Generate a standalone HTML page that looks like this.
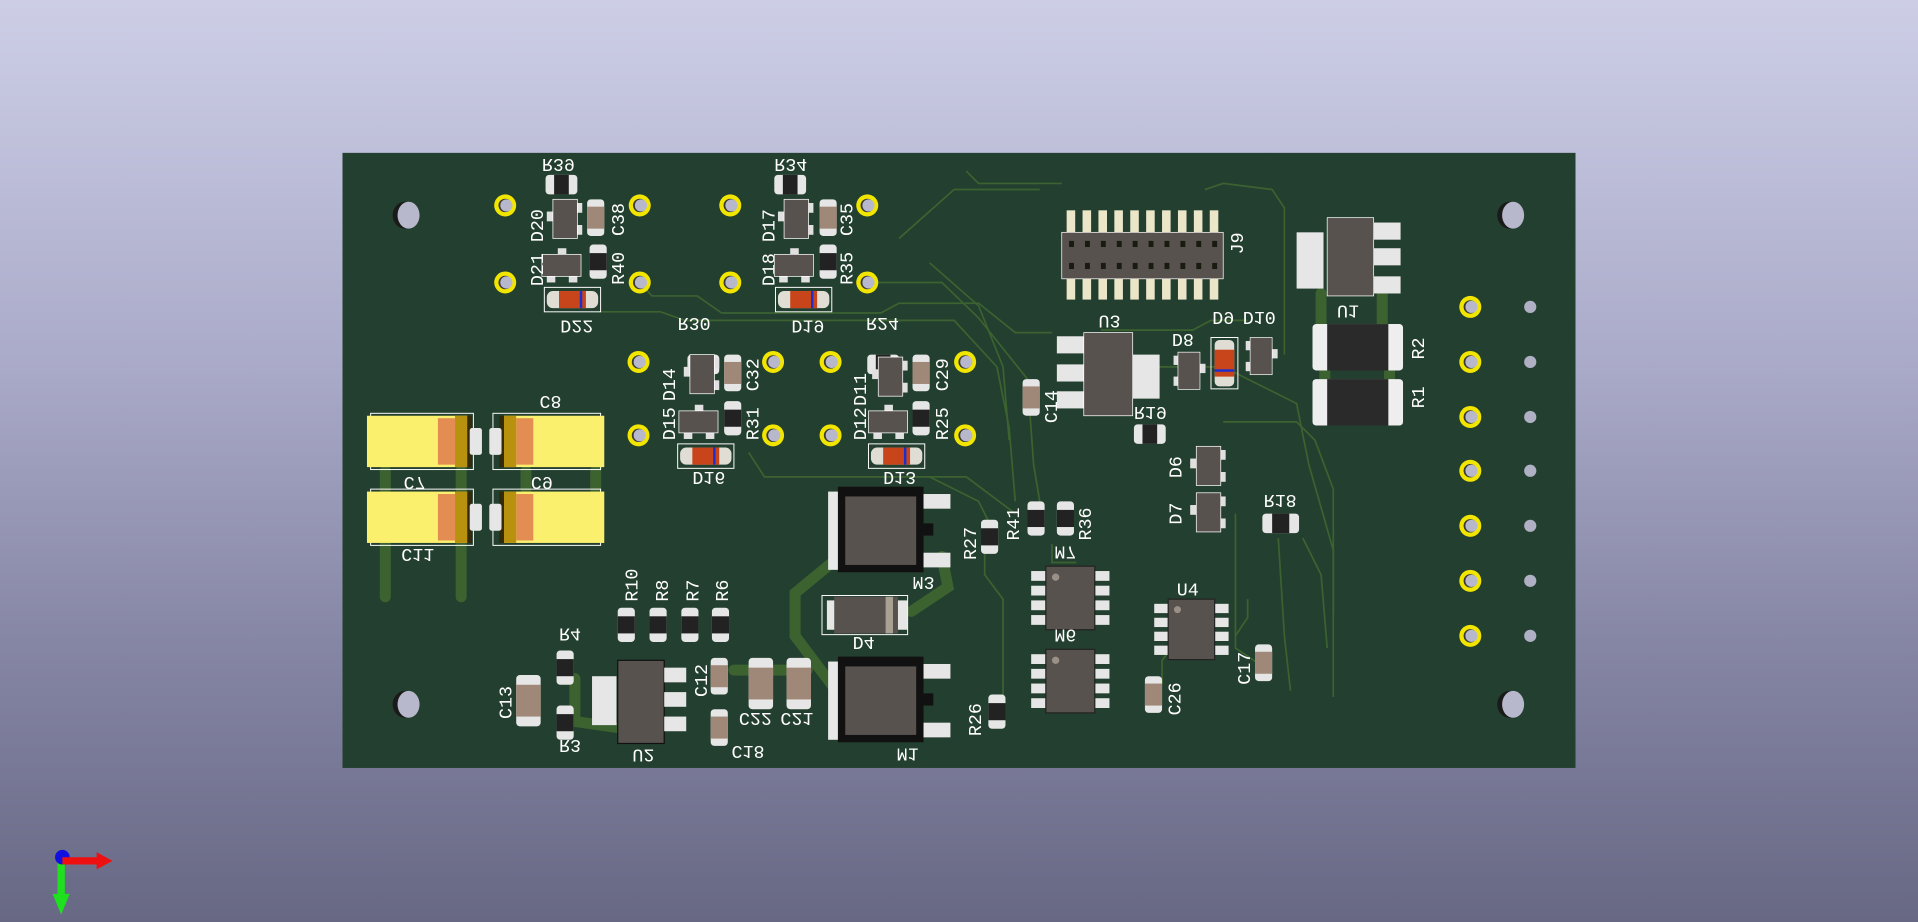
<!DOCTYPE html>
<html><head><meta charset="utf-8"><style>
html,body{margin:0;padding:0;width:1918px;height:922px;overflow:hidden}
body{background:linear-gradient(#cdcee6 0%,#a9aac8 40%,#8586a4 70%,#676884 100%)}
svg{position:absolute;left:0;top:0}
text{font-family:"Liberation Mono","DejaVu Sans Mono",monospace;fill:#fff;font-size:15px}
</style></head><body>
<svg width="1918" height="922" viewBox="0 0 1568 754" preserveAspectRatio="none">
<defs>
<g id="rh"><rect x="0" y="0" width="26" height="16" rx="3" fill="#e6e6e6"/><rect x="7" y="0" width="12" height="16" fill="#222"/></g>
<g id="rv"><rect x="0" y="0" width="14" height="28" rx="3" fill="#e6e6e6"/><rect x="0" y="7" width="14" height="14" fill="#222"/></g>
<g id="cv"><rect x="0" y="0" width="14" height="30" rx="3" fill="#e6e6e6"/><rect x="0" y="6" width="14" height="18" fill="#a08878"/></g>
<g id="cvb"><rect x="0" y="0" width="20" height="42" rx="3" fill="#e6e6e6"/><rect x="0" y="8" width="20" height="26" fill="#a08878"/></g>
<g id="sotv"><rect x="-5" y="10" width="6" height="8" fill="#e0e0e0"/><rect x="18" y="3" width="6" height="8" fill="#e0e0e0"/><rect x="18" y="21" width="6" height="8" fill="#e0e0e0"/><rect x="0" y="0" width="20" height="32" fill="#58524f" stroke="#fff" stroke-width="0.6"/></g>
<g id="soth"><rect x="13" y="-5" width="7" height="6" fill="#e0e0e0"/><rect x="4" y="17" width="7" height="6" fill="#e0e0e0"/><rect x="22" y="17" width="7" height="6" fill="#e0e0e0"/><rect x="0" y="0" width="32" height="18" fill="#58524f" stroke="#fff" stroke-width="0.6"/></g>
<g id="melf"><rect x="-2" y="-2" width="46" height="20" fill="none" stroke="#fff" stroke-width="0.8"/><rect x="0" y="1" width="42" height="14" rx="5" fill="#e0ddd5"/><rect x="10" y="1" width="22" height="14" fill="#c8441a"/><rect x="27" y="1" width="2" height="14" fill="#1a2fd0"/></g>
<g id="pad"><circle r="9" fill="#f2e600"/><circle r="5.5" fill="#3a3a3a"/><circle cx="1" r="5" fill="#b8b8cc"/></g>
<g id="hole"><ellipse cx="-2" cy="0" rx="10" ry="11" fill="#1a1a1a"/><ellipse cx="1" cy="0" rx="9" ry="11" fill="#b8b8cc"/></g>
<g id="soic"><g fill="#e6e6e6"><rect x="-12" y="4" width="14" height="8"/><rect x="-12" y="16" width="14" height="8"/><rect x="-12" y="28" width="14" height="8"/><rect x="-12" y="40" width="14" height="8"/><rect x="38" y="4" width="14" height="8"/><rect x="38" y="16" width="14" height="8"/><rect x="38" y="28" width="14" height="8"/><rect x="38" y="40" width="14" height="8"/></g><rect x="0" y="0" width="40" height="52" fill="#58524f" stroke="#222" stroke-width="1"/><circle cx="8" cy="9" r="3" fill="#9a9088"/></g>
<g id="tant"><rect x="0" y="0" width="82" height="42" fill="#fbf06e"/><rect x="58" y="2" width="14" height="38" fill="#e48d52"/><rect x="72" y="0" width="10" height="42" fill="#b8920e"/><rect x="82" y="0" width="4" height="42" fill="#332a0a"/><rect x="84" y="10" width="10" height="22" rx="2" fill="#e6e6e6"/></g>
<g id="dpak"><rect x="-2" y="0" width="12" height="64" fill="#e8e8e8"/><rect x="6" y="-4" width="70" height="70" fill="#111"/><rect x="12" y="4" width="58" height="56" fill="#58524f"/><rect x="76" y="2" width="22" height="12" fill="#e6e6e6"/><rect x="76" y="50" width="22" height="12" fill="#e6e6e6"/><rect x="76" y="26" width="8" height="10" fill="#111"/></g>
</defs>

<rect x="280" y="125" width="1008" height="503" fill="#233f2f"/>

<g fill="none" stroke="#3c6230" stroke-width="1.4">
<path d="M523 231 L533 242 L570 242 L590 256 L720 256 L735 248 L800 248 L830 272 L860 272"/>
<path d="M709 231 L770 231 L800 260 L840 310 L845 380 L850 410"/>
<path d="M490 255 L540 255 L560 262 L660 262 L780 262 L815 300 L825 350 L830 410"/>
<path d="M735 195 L780 155 L850 155"/>
<path d="M760 215 L800 250 L820 300 L825 360"/>
<path d="M790 140 L800 150 L868 150"/>
<path d="M985 155 L1000 150 L1040 155 L1050 170 L1050 290"/>
<path d="M925 300 L1000 300 L1060 330 L1070 380 L1090 450 L1090 570"/>
<path d="M1000 345 L1060 345 L1075 360 L1090 400 L1090 500"/>
<path d="M900 270 L975 270 L990 262 L1020 262"/>
<path d="M1010 420 L1010 530 L1040 550"/>
<path d="M1045 440 L1050 520 L1055 565"/>
<path d="M1065 440 L1080 470 L1085 530"/>
<path d="M760 390 L800 410 L810 430"/>
<path d="M612 370 L625 390 L790 390 L830 420"/>
<path d="M805 450 L805 470 L820 490 L820 570"/>
<path d="M860 445 L860 460 L880 460"/>
<path d="M965 520 L950 540 L950 560"/>
<path d="M1010 520 L1020 505 L1020 490"/>
</g>
<g fill="none" stroke="#3c6230" stroke-width="9" stroke-linecap="round">
<path d="M315 445 L315 488"/><path d="M377 445 L377 488"/>
<path d="M315 385 L315 400"/><path d="M377 385 L377 400"/>
<path d="M430 385 L430 400"/><path d="M487 385 L487 400"/>
<path d="M690 452 L650 485 L650 520 L680 560"/>
<path d="M770 455 L775 480 L745 500"/>
<path d="M470 555 L470 590 L505 595"/>
<path d="M600 548 L660 548"/>
<path d="M1080 240 L1080 265"/><path d="M1130 240 L1130 265"/>
<path d="M1083 300 L1083 312"/><path d="M1136 300 L1136 312"/>
</g>

<use href="#hole" x="333" y="176"/><use href="#hole" x="1236" y="176"/><use href="#hole" x="333" y="576"/><use href="#hole" x="1236" y="576"/>

<use href="#pad" x="413" y="168"/><use href="#pad" x="523" y="168"/><use href="#pad" x="413" y="231"/><use href="#pad" x="523" y="231"/>
<use href="#pad" x="597" y="168"/><use href="#pad" x="709" y="168"/><use href="#pad" x="597" y="231"/><use href="#pad" x="709" y="231"/>
<use href="#pad" x="522" y="296"/><use href="#pad" x="632" y="296"/><use href="#pad" x="522" y="356"/><use href="#pad" x="632" y="356"/>
<use href="#pad" x="679" y="296"/><use href="#pad" x="789" y="296"/><use href="#pad" x="679" y="356"/><use href="#pad" x="789" y="356"/>
<g transform="translate(1202,0)"><use href="#pad" y="251"/><use href="#pad" y="296"/><use href="#pad" y="341"/><use href="#pad" y="385"/><use href="#pad" y="430"/><use href="#pad" y="475"/><use href="#pad" y="520"/></g>
<g fill="#b0b0c4"><circle cx="1251" cy="251" r="5"/><circle cx="1251" cy="296" r="5"/><circle cx="1251" cy="341" r="5"/><circle cx="1251" cy="385" r="5"/><circle cx="1251" cy="430" r="5"/><circle cx="1251" cy="475" r="5"/><circle cx="1251" cy="520" r="5"/></g>

<g stroke="#fff" fill="none" stroke-width="0.8"><rect x="303" y="338" width="84" height="46"/><rect x="403" y="338" width="88" height="46"/><rect x="303" y="400" width="84" height="46"/><rect x="403" y="400" width="88" height="46"/></g>
<use href="#tant" x="300" y="340"/><use href="#tant" x="300" y="402"/>
<use href="#tant" transform="translate(494,340) scale(-1,1)"/><use href="#tant" transform="translate(494,402) scale(-1,1)"/>
<text transform="translate(441,324) scale(1,-1)">C8</text>
<text transform="translate(330,390) scale(1,-1)">C7</text>
<text transform="translate(434,390) scale(1,-1)">C9</text>
<text transform="translate(328,449) scale(1,-1)">C11</text>

<use href="#rh" x="446" y="143"/><use href="#rh" x="633" y="143"/>
<use href="#cv" x="480" y="163"/><use href="#cv" x="670" y="163"/>
<use href="#rv" x="482" y="200"/><use href="#rv" x="670" y="200"/>
<use href="#sotv" x="452" y="163"/><use href="#sotv" x="641" y="163"/>
<use href="#soth" x="443" y="208"/><use href="#soth" x="633" y="208"/>
<use href="#melf" x="447" y="237"/><use href="#melf" x="636" y="237"/>
<use href="#rh" x="562" y="290"/><use href="#rh" x="709" y="290"/>
<use href="#cv" x="592" y="290"/><use href="#cv" x="746" y="290"/>
<use href="#rv" x="592" y="328"/><use href="#rv" x="746" y="328"/>
<use href="#sotv" x="564" y="290"/><use href="#sotv" x="718" y="292"/>
<use href="#soth" x="555" y="336"/><use href="#soth" x="710" y="336"/>
<use href="#melf" x="556" y="365"/><use href="#melf" x="712" y="365"/>

<text transform="translate(443,130) scale(1,-1)">R39</text>
<text transform="translate(633,130) scale(1,-1)">R34</text>
<text transform="translate(444,198) rotate(-90)">D20</text>
<text transform="translate(444,234) rotate(-90)">D21</text>
<text transform="translate(510,193) rotate(-90)">C38</text>
<text transform="translate(510,233) rotate(-90)">R40</text>
<text transform="translate(633,198) rotate(-90)">D17</text>
<text transform="translate(633,234) rotate(-90)">D18</text>
<text transform="translate(697,193) rotate(-90)">C35</text>
<text transform="translate(697,233) rotate(-90)">R35</text>
<text transform="translate(458,262) scale(1,-1)">D22</text>
<text transform="translate(647,262) scale(1,-1)">D19</text>
<text transform="translate(554,260) scale(1,-1)">R30</text>
<text transform="translate(708,260) scale(1,-1)">R24</text>
<text transform="translate(552,328) rotate(-90)">D14</text>
<text transform="translate(552,360) rotate(-90)">D15</text>
<text transform="translate(620,320) rotate(-90)">C32</text>
<text transform="translate(620,360) rotate(-90)">R31</text>
<text transform="translate(708,332) rotate(-90)">D11</text>
<text transform="translate(708,360) rotate(-90)">D12</text>
<text transform="translate(775,320) rotate(-90)">C29</text>
<text transform="translate(775,360) rotate(-90)">R25</text>
<text transform="translate(566,386) scale(1,-1)">D16</text>
<text transform="translate(722,386) scale(1,-1)">D13</text>

<use href="#dpak" x="679" y="402"/><use href="#dpak" x="679" y="541"/>
<text transform="translate(746,472) scale(1,-1)">M3</text>
<text transform="translate(733,612) scale(1,-1)">M1</text>
<rect x="672" y="487" width="70" height="32" fill="none" stroke="#fff" stroke-width="0.8"/>
<rect x="676" y="491" width="8" height="24" fill="#e6e6e6"/><rect x="734" y="491" width="8" height="24" fill="#e6e6e6"/>
<rect x="682" y="488" width="52" height="30" fill="#58524f"/><rect x="724" y="488" width="6" height="30" fill="#a9a294"/>
<text transform="translate(697,521) scale(1,-1)">D4</text>
<use href="#rv" x="802" y="425"/><text transform="translate(798,458) rotate(-90)">R27</text>
<use href="#rv" x="840" y="410"/><use href="#rv" x="864" y="410"/>
<text transform="translate(833,442) rotate(-90)">R41</text><text transform="translate(892,442) rotate(-90)">R36</text>
<use href="#rv" x="808" y="568"/><text transform="translate(802,602) rotate(-90)">R26</text>

<use href="#soic" x="855" y="463"/><use href="#soic" x="855" y="531"/>
<text transform="translate(862,447) scale(1,-1)">M7</text>
<text transform="translate(862,515) scale(1,-1)">M6</text>
<use href="#soic" transform="translate(955,490) scale(0.95,0.95)"/>
<text x="962" y="487">U4</text>
<use href="#cv" x="936" y="553"/><text transform="translate(965,585) rotate(-90)">C26</text>
<use href="#cv" x="1026" y="527"/><text transform="translate(1022,560) rotate(-90)">C17</text>

<use href="#rv" x="505" y="497"/><use href="#rv" x="531" y="497"/><use href="#rv" x="557" y="497"/><use href="#rv" x="582" y="497"/>
<text transform="translate(521,492) rotate(-90)">R10</text><text transform="translate(546,492) rotate(-90)">R8</text>
<text transform="translate(571,492) rotate(-90)">R7</text><text transform="translate(595,492) rotate(-90)">R6</text>
<use href="#rv" x="455" y="532"/><use href="#rv" x="455" y="577"/>
<text transform="translate(457,514) scale(1,-1)">R4</text><text transform="translate(457,605) scale(1,-1)">R3</text>
<use href="#cvb" x="422" y="552"/><text transform="translate(418,588) rotate(-90)">C13</text>
<rect x="484" y="553" width="20" height="40" fill="#e6e6e6"/>
<rect x="505" y="540" width="38" height="68" fill="#58524f" stroke="#111" stroke-width="1"/>
<rect x="543" y="546" width="18" height="12" fill="#e6e6e6"/><rect x="543" y="566" width="18" height="12" fill="#e6e6e6"/><rect x="543" y="586" width="18" height="12" fill="#e6e6e6"/>
<text transform="translate(517,613) scale(1,-1)">U2</text>
<use href="#cv" x="581" y="538"/><text transform="translate(578,570) rotate(-90)">C12</text>
<use href="#cv" x="581" y="580"/><text transform="translate(598,610) scale(1,-1)">C18</text>
<use href="#cvb" x="612" y="538"/><use href="#cvb" x="643" y="538"/>
<text transform="translate(604,583) scale(1,-1)">C22</text><text transform="translate(638,583) scale(1,-1)">C21</text>

<rect x="868" y="190" width="132" height="38" fill="#58524f" stroke="#fff" stroke-width="0.6"/>
<g fill="#ece6c8">
<rect x="872" y="172" width="7" height="18"/><rect x="885" y="172" width="7" height="18"/><rect x="898" y="172" width="7" height="18"/><rect x="911" y="172" width="7" height="18"/><rect x="924" y="172" width="7" height="18"/><rect x="937" y="172" width="7" height="18"/><rect x="950" y="172" width="7" height="18"/><rect x="963" y="172" width="7" height="18"/><rect x="976" y="172" width="7" height="18"/><rect x="989" y="172" width="7" height="18"/>
<rect x="872" y="228" width="7" height="17"/><rect x="885" y="228" width="7" height="17"/><rect x="898" y="228" width="7" height="17"/><rect x="911" y="228" width="7" height="17"/><rect x="924" y="228" width="7" height="17"/><rect x="937" y="228" width="7" height="17"/><rect x="950" y="228" width="7" height="17"/><rect x="963" y="228" width="7" height="17"/><rect x="976" y="228" width="7" height="17"/><rect x="989" y="228" width="7" height="17"/>
</g>
<g fill="#1a1a10">
<rect x="874" y="197" width="4" height="5"/><rect x="887" y="197" width="4" height="5"/><rect x="900" y="197" width="4" height="5"/><rect x="913" y="197" width="4" height="5"/><rect x="926" y="197" width="4" height="5"/><rect x="939" y="197" width="4" height="5"/><rect x="952" y="197" width="4" height="5"/><rect x="965" y="197" width="4" height="5"/><rect x="978" y="197" width="4" height="5"/><rect x="991" y="197" width="4" height="5"/>
<rect x="874" y="215" width="4" height="5"/><rect x="887" y="215" width="4" height="5"/><rect x="900" y="215" width="4" height="5"/><rect x="913" y="215" width="4" height="5"/><rect x="926" y="215" width="4" height="5"/><rect x="939" y="215" width="4" height="5"/><rect x="952" y="215" width="4" height="5"/><rect x="965" y="215" width="4" height="5"/><rect x="978" y="215" width="4" height="5"/><rect x="991" y="215" width="4" height="5"/>
</g>
<text transform="translate(1016,208) rotate(-90)">J9</text>

<rect x="864" y="275" width="22" height="14" fill="#e6e6e6"/><rect x="864" y="298" width="22" height="14" fill="#e6e6e6"/><rect x="864" y="320" width="22" height="14" fill="#e6e6e6"/>
<rect x="886" y="272" width="40" height="68" fill="#58524f" stroke="#fff" stroke-width="0.6"/>
<rect x="926" y="290" width="22" height="36" fill="#e6e6e6"/>
<text transform="translate(898,258) scale(1,-1)">U3</text>
<use href="#cv" x="836" y="310"/><text transform="translate(864,346) rotate(-90)">C14</text>
<use href="#rh" x="927" y="347"/><text transform="translate(927,333) scale(1,-1)">R19</text>
<use href="#sotv" transform="translate(981,288) scale(-0.9,0.95)"/>
<text transform="translate(958,273) scale(1,-1)">D8</text>
<rect x="990" y="276" width="22" height="42" fill="none" stroke="#fff" stroke-width="0.8"/>
<rect x="993" y="278" width="16" height="38" rx="4" fill="#e0ddd5"/><rect x="993" y="286" width="16" height="22" fill="#c8441a"/><rect x="993" y="302" width="16" height="2" fill="#1a2fd0"/>
<text transform="translate(991,255) scale(1,-1)">D9</text>
<use href="#sotv" transform="translate(1040,276) scale(-0.9,0.95)"/>
<text transform="translate(1016,255) scale(1,-1)">D10</text>
<rect x="1060" y="190" width="22" height="46" fill="#e6e6e6"/>
<rect x="1085" y="178" width="38" height="64" fill="#58524f" stroke="#fff" stroke-width="0.6"/>
<rect x="1123" y="182" width="22" height="14" fill="#e6e6e6"/><rect x="1123" y="203" width="22" height="14" fill="#e6e6e6"/><rect x="1123" y="226" width="22" height="14" fill="#e6e6e6"/>
<text transform="translate(1093,250) scale(1,-1)">U1</text>
<rect x="1073" y="265" width="74" height="38" rx="3" fill="#eee"/><rect x="1085" y="265" width="50" height="38" fill="#2a2a2a"/>
<rect x="1073" y="310" width="74" height="38" rx="3" fill="#eee"/><rect x="1085" y="310" width="50" height="38" fill="#2a2a2a"/>
<text transform="translate(1164,294) rotate(-90)">R2</text><text transform="translate(1164,334) rotate(-90)">R1</text>
<use href="#sotv" x="978" y="365"/><use href="#sotv" x="978" y="403"/>
<text transform="translate(966,391) rotate(-90)">D6</text><text transform="translate(966,429) rotate(-90)">D7</text>
<rect x="1032" y="420" width="30" height="16" rx="3" fill="#e6e6e6"/><rect x="1040" y="420" width="14" height="16" fill="#222"/>
<text transform="translate(1033,405) scale(1,-1)">R18</text>

<path d="M50 706 L50 732" stroke="#1ee01e" stroke-width="6"/>
<path d="M43 731 L57 731 L50 748z" fill="#1ee01e"/>
<circle cx="51" cy="701" r="6" fill="#1010e0"/>
<path d="M51 704 L80 704" stroke="#ee1010" stroke-width="6"/>
<path d="M79 697 L79 711 L92 704z" fill="#ee1010"/>
</svg>
</body></html>
